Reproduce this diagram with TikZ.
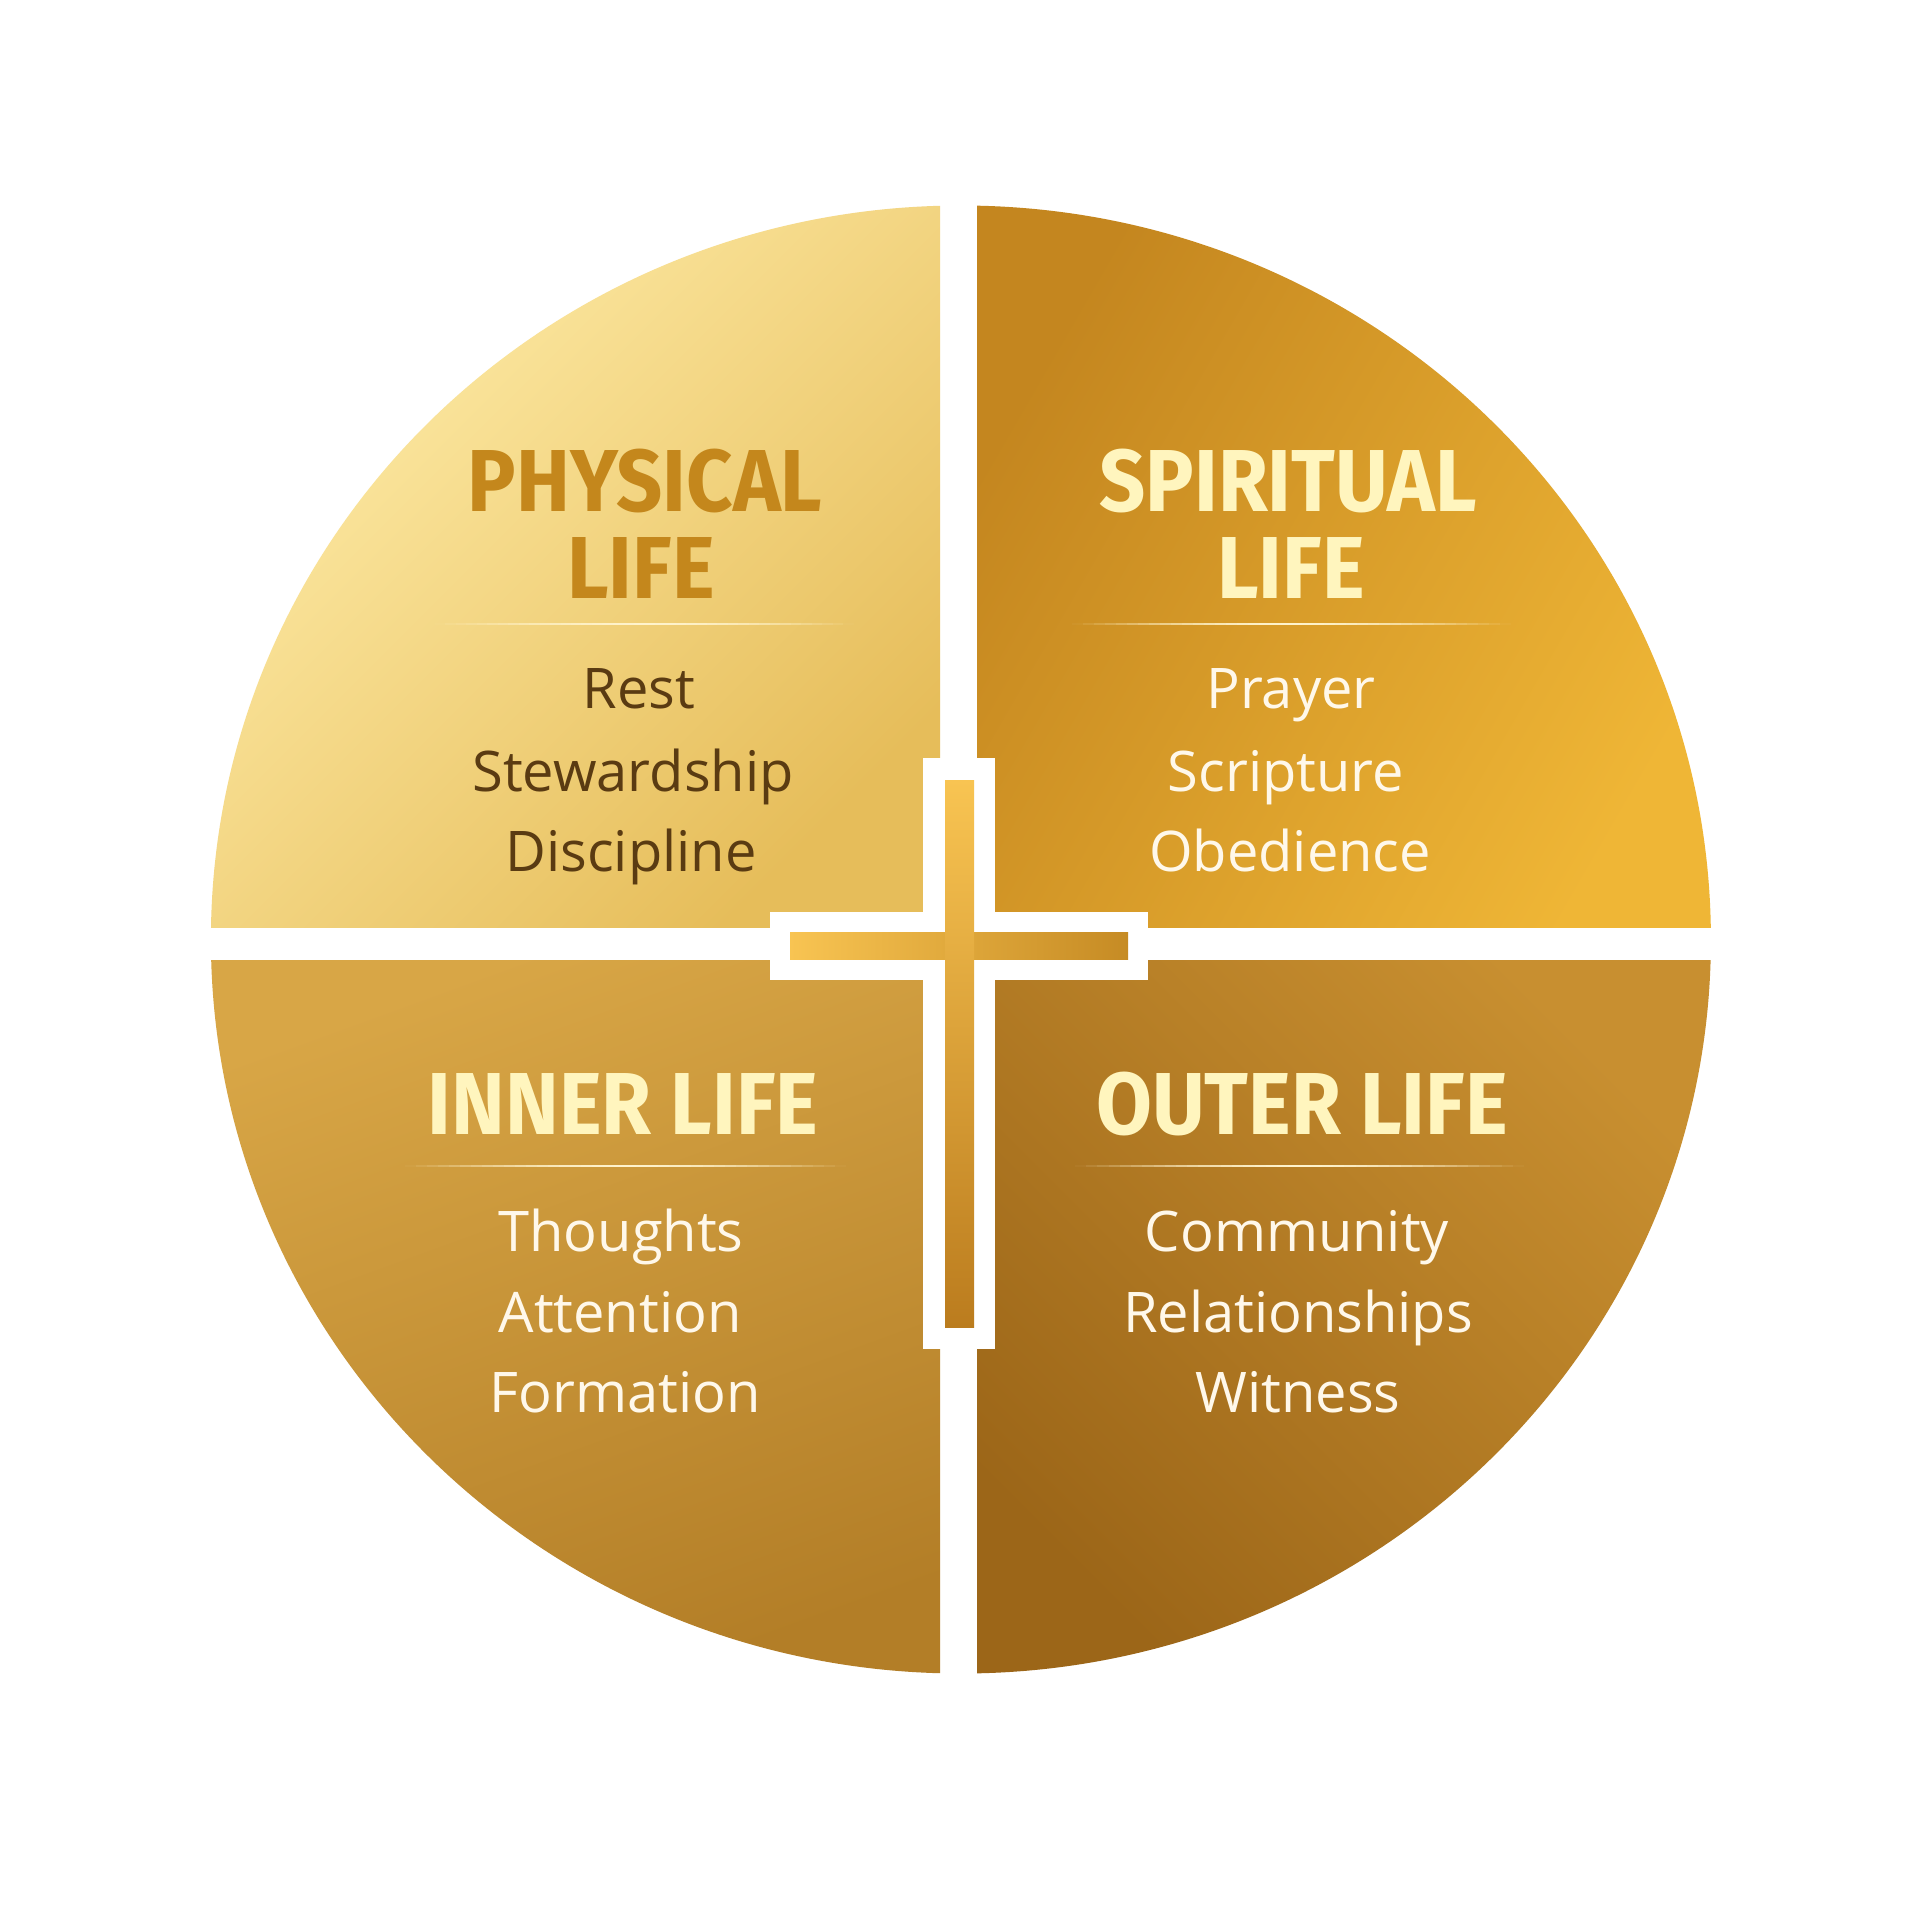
\documentclass[tikz,border=0pt]{standalone}
\usepackage{fontspec}
\setmainfont{Open Sans}
\newfontfamily\headfont{Fira Sans}[FakeStretch=0.92]
\definecolor{tlA}{HTML}{FFEDAA}
\definecolor{tlB}{HTML}{E6BD5A}
\definecolor{trA}{HTML}{C4861F}
\definecolor{trB}{HTML}{EFB636}
\definecolor{blA}{HTML}{D8A646}
\definecolor{blB}{HTML}{B37E27}
\definecolor{brA}{HTML}{9C6618}
\definecolor{brB}{HTML}{C88F30}
\definecolor{crossA}{HTML}{F8C452}
\definecolor{crossB}{HTML}{BB7C1E}
\definecolor{crossC}{HTML}{C68B24}
\definecolor{headDark}{HTML}{C4871C}
\definecolor{headLight}{HTML}{FFF5BE}
\definecolor{bodyDark}{HTML}{5A3B12}
\definecolor{bodyLight}{HTML}{FFF8EA}
\definecolor{ruleLight}{HTML}{FFF3CC}
\newcommand{\divline}[3]{%
  \pgfmathsetmacro{\seg}{(#2-#1)/40}%
  \foreach \k in {0,...,39}{%
    \pgfmathsetmacro{\op}{sin(180*(\k+0.5)/40)}%
    \pgfmathsetmacro{\xa}{#1+\seg*\k}%
    \pgfmathsetmacro{\xb}{#1+\seg*(\k+1)}%
    \fill[ruleLight, fill opacity=\op] (\xa,#3-1.4) rectangle (\xb,#3+1.4);
  }}
\begin{document}
\begin{tikzpicture}[x=1pt,y=-1pt,
  headtext/.style={font=\headfont\bfseries\fontsize{88}{88}\selectfont, inner sep=0pt, anchor=base},
  bodytext/.style={font=\fontsize{56}{56}\selectfont, inner sep=0pt, anchor=base},
  outline/.style={fill=white}]
\useasboundingbox (0,0) rectangle (1920,1920);
\fill[white] (0,0) rectangle (1920,1920);

% the four quadrants, cut from one disc
\begin{scope}
  \clip (960.9,939.5) ellipse [x radius=750, y radius=734];
  \shade[left color=tlA, right color=tlB, shading angle=45] (200,200) rectangle (940,927);
  \shade[left color=trA, right color=trB, shading angle=60] (977,200) rectangle (1720,927);
  \shade[left color=blA, right color=blB, shading angle=20] (200,960) rectangle (940,1690);
  \shade[left color=brB, right color=brA, shading angle=-45] (977,960) rectangle (1720,1690);
\end{scope}

% cross outline
\fill[outline] (923,758) rectangle (995,1349);
\fill[outline] (770,912) rectangle (1148,980);
% cross
\shade[left color=crossA, right color=crossC] (790,932) rectangle (1128,959);
\shade[top color=crossA, bottom color=crossB] (945,780) rectangle (974,1327);

% top-left texts
\node[headtext, text=headDark] (phys1) at (645,511) {PHYSICAL};
\node[headtext, text=headDark] (phys2) at (641,598) {LIFE};
\divline{435}{853.5}{624}
\node[bodytext, text=bodyDark] (rest) at (639,708) {Rest};
\node[bodytext, text=bodyDark] (stew) at (633,791) {Stewardship};
\node[bodytext, text=bodyDark] (disc) at (631,871) {Discipline};

% top-right texts
\node[headtext, text=headLight] (spir1) at (1288,511) {SPIRITUAL};
\node[headtext, text=headLight] (spir2) at (1291,598) {LIFE};
\divline{1072}{1511}{624}
\node[bodytext, text=bodyLight] (pray) at (1291,708) {Prayer};
\node[bodytext, text=bodyLight] (scri) at (1286,791) {Scripture};
\node[bodytext, text=bodyLight] (obed) at (1290,871) {Obedience};

% bottom-left texts
\node[headtext, text=headLight] (inner) at (623,1134) {INNER LIFE};
\divline{404.5}{846}{1166}
\node[bodytext, text=bodyLight] (thou) at (621,1251) {Thoughts};
\node[bodytext, text=bodyLight] (atte) at (620,1332) {Attention};
\node[bodytext, text=bodyLight] (form) at (625,1412) {Formation};

% bottom-right texts
\node[headtext, text=headLight] (outer) at (1302,1134) {OUTER LIFE};
\divline{1075}{1524}{1166}
\node[bodytext, text=bodyLight] (comm) at (1297,1251) {Community};
\node[bodytext, text=bodyLight] (rela) at (1298,1332) {Relationships};
\node[bodytext, text=bodyLight] (witn) at (1298,1412) {Witness};
\end{tikzpicture}
\end{document}
